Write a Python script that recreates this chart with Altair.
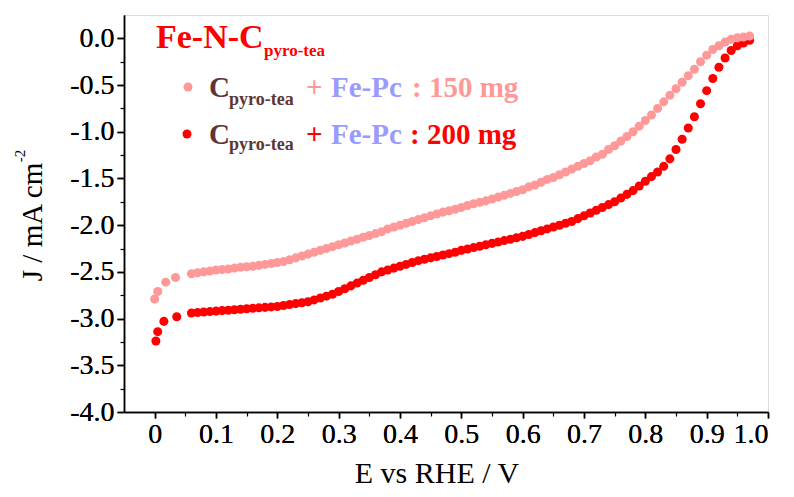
import altair as alt
import pandas as pd

# ---- data ----
E_150 = [0.000, 0.005, 0.018, 0.034,
         0.06, 0.07, 0.08, 0.09, 0.10, 0.11, 0.12, 0.13, 0.14, 0.15, 0.16, 0.17, 0.18, 0.19,
         0.20, 0.21, 0.22, 0.23, 0.24, 0.25, 0.26, 0.27, 0.28, 0.29, 0.30, 0.31, 0.32, 0.33,
         0.34, 0.35, 0.36, 0.37, 0.38, 0.39, 0.40, 0.41, 0.42, 0.43, 0.44, 0.45, 0.46, 0.47,
         0.48, 0.49, 0.50, 0.51, 0.52, 0.53, 0.54, 0.55, 0.56, 0.57, 0.58, 0.59, 0.60, 0.61,
         0.62, 0.63, 0.64, 0.65, 0.66, 0.67, 0.68, 0.69, 0.70, 0.71, 0.72, 0.73, 0.74, 0.75,
         0.76, 0.77, 0.78, 0.79, 0.80, 0.81, 0.82, 0.83, 0.84, 0.85, 0.86, 0.87, 0.88, 0.89,
         0.90, 0.91, 0.92, 0.93, 0.94, 0.95, 0.96, 0.97]
J_150 = [-2.79, -2.71, -2.61, -2.56,
         -2.52, -2.51, -2.50, -2.49, -2.48, -2.475, -2.47, -2.46, -2.45, -2.445, -2.44, -2.43, -2.42, -2.41,
         -2.40, -2.39, -2.37, -2.35, -2.33, -2.31, -2.29, -2.27, -2.25, -2.23, -2.21, -2.19, -2.17, -2.15,
         -2.13, -2.11, -2.09, -2.07, -2.04, -2.02, -2.00, -1.98, -1.96, -1.94, -1.92, -1.90, -1.88, -1.86,
         -1.845, -1.83, -1.81, -1.79, -1.77, -1.755, -1.74, -1.72, -1.70, -1.68, -1.66, -1.64, -1.62, -1.59,
         -1.57, -1.54, -1.51, -1.49, -1.46, -1.43, -1.40, -1.37, -1.34, -1.31, -1.27, -1.24, -1.19, -1.15,
         -1.10, -1.05, -1.00, -0.94, -0.88, -0.82, -0.75, -0.68, -0.61, -0.54, -0.47, -0.40, -0.33, -0.25,
         -0.18, -0.12, -0.08, -0.04, -0.01, 0.005, 0.015, 0.025]

E_200 = [0.002, 0.005, 0.015, 0.036,
         0.06, 0.07, 0.08, 0.09, 0.10, 0.11, 0.12, 0.13, 0.14, 0.15, 0.16, 0.17, 0.18, 0.19,
         0.20, 0.21, 0.22, 0.23, 0.24, 0.25, 0.26, 0.27, 0.28, 0.29, 0.30, 0.31, 0.32, 0.33,
         0.34, 0.35, 0.36, 0.37, 0.38, 0.39, 0.40, 0.41, 0.42, 0.43, 0.44, 0.45, 0.46, 0.47,
         0.48, 0.49, 0.50, 0.51, 0.52, 0.53, 0.54, 0.55, 0.56, 0.57, 0.58, 0.59, 0.60, 0.61,
         0.62, 0.63, 0.64, 0.65, 0.66, 0.67, 0.68, 0.69, 0.70, 0.71, 0.72, 0.73, 0.74, 0.75,
         0.76, 0.77, 0.78, 0.79, 0.80, 0.81, 0.82, 0.83, 0.84, 0.85, 0.86, 0.87, 0.88, 0.89,
         0.90, 0.91, 0.92, 0.93, 0.94, 0.95, 0.96, 0.97]
J_200 = [-3.24, -3.14, -3.03, -2.98,
         -2.94, -2.935, -2.93, -2.925, -2.92, -2.915, -2.91, -2.905, -2.90, -2.895, -2.89, -2.885, -2.88, -2.875,
         -2.87, -2.86, -2.85, -2.84, -2.83, -2.82, -2.80, -2.78, -2.76, -2.74, -2.71, -2.68, -2.65, -2.62,
         -2.59, -2.56, -2.53, -2.50, -2.48, -2.46, -2.44, -2.42, -2.40, -2.38, -2.365, -2.35, -2.335, -2.32,
         -2.305, -2.29, -2.27, -2.255, -2.24, -2.225, -2.21, -2.195, -2.18, -2.165, -2.15, -2.135, -2.12, -2.10,
         -2.08, -2.06, -2.04, -2.02, -2.00, -1.98, -1.96, -1.93, -1.90, -1.87, -1.84, -1.81, -1.78, -1.75,
         -1.71, -1.67, -1.63, -1.58, -1.53, -1.48, -1.43, -1.37, -1.29, -1.19, -1.08, -0.96, -0.84, -0.70,
         -0.56, -0.43, -0.31, -0.21, -0.13, -0.08, -0.05, -0.02]

SERIES = ["150 mg", "200 mg"]
COLORS = ["#ff9999", "#ff0000"]

X_TICKS = [0.0, 0.1, 0.2, 0.3, 0.4, 0.5, 0.6, 0.7, 0.8, 0.9, 1.0]
X_MINOR = [0.05, 0.15, 0.25, 0.35, 0.45, 0.55, 0.65, 0.75, 0.85, 0.95]
Y_TICKS = [0.0, -0.5, -1.0, -1.5, -2.0, -2.5, -3.0, -3.5, -4.0]
Y_MINOR = [-0.25, -0.75, -1.25, -1.75, -2.25, -2.75, -3.25, -3.75]

# ---- layout ----
W, H = 644, 397
PAD_L, PAD_T = 116, 7
OX, OY = 8 + PAD_L, 8 + PAD_T  # page position of the plot origin
FONT = "Liberation Serif"
DOT = 82

df150 = pd.DataFrame({"E": E_150, "J": J_150, "series": SERIES[0]})
df200 = pd.DataFrame({"E": E_200, "J": J_200, "series": SERIES[1]})

xs = alt.Scale(domain=[-0.05, 1.0], nice=False, zero=False)
ys = alt.Scale(domain=[-4.0, 0.25], nice=False, zero=False)
cs = alt.Scale(domain=SERIES, range=COLORS)

x_major = alt.Axis(values=X_TICKS, title=None, grid=False, orient="bottom",
                   labelExpr="datum.value == 0 ? '0' : format(datum.value, '.1f')",
                   labelFont=FONT, labelFontSize=28, labelColor="black",
                   labelPadding=2, tickSize=6, tickColor="black", tickWidth=1.5,
                   domainColor="black", domainWidth=1.5)
y_major = alt.Axis(values=Y_TICKS, title=None, grid=False, orient="left",
                   labelExpr="datum.value == 0 ? '0.0' : '-' + format(abs(datum.value), '.1f')",
                   labelFont=FONT, labelFontSize=28, labelColor="black",
                   labelPadding=3, tickSize=7, tickColor="black", tickWidth=1.5,
                   domainColor="black", domainWidth=1.5)
x_minor = alt.Axis(values=X_MINOR, title=None, grid=False, orient="bottom", labels=False,
                   domain=False, tickSize=4, tickColor="black", tickWidth=1.2)
y_minor = alt.Axis(values=Y_MINOR, title=None, grid=False, orient="left", labels=False,
                   domain=False, tickSize=4, tickColor="black", tickWidth=1.2)


def pts(df, xa, ya, opacity=1.0):
    return alt.Chart(df).mark_circle(size=DOT, opacity=opacity).encode(
        x=alt.X("E:Q", scale=xs, axis=xa),
        y=alt.Y("J:Q", scale=ys, axis=ya),
        color=alt.Color("series:N", scale=cs, legend=None),
    )


red = pts(df200, x_major, y_major)
pink = pts(df150, x_major, y_major)
minor = pts(df200, x_minor, y_minor, opacity=0.0)

one = pd.DataFrame({"k": [0]})


def txt(s, px, py, size, color, bold=True, angle=0, align="left", baseline="alphabetic"):
    kw = dict(text=s, font=FONT, fontSize=size, color=color, align=align,
              baseline=baseline, fontWeight="bold" if bold else "normal")
    if angle:
        kw["angle"] = angle
    return alt.Chart(one).mark_text(**kw).encode(x=alt.value(px - OX), y=alt.value(py - OY))


def dot(px, py, color):
    return alt.Chart(one).mark_circle(size=DOT, opacity=1, color=color).encode(
        x=alt.value(px - OX), y=alt.value(py - OY))


BROWN = "#5e3535"
BLUE = "#9a9aff"
notes = [
    txt("Fe-N-C", 156, 48, 34, "#ff0000"),
    txt("pyro-tea", 264, 56, 17, "#ff0000"),
    dot(188, 87, COLORS[0]),
    txt("C", 209, 97, 29, BROWN),
    txt("pyro-tea", 229, 105, 18, BROWN),
    txt("+", 306, 97, 29, COLORS[0]),
    txt("Fe-Pc", 331, 97, 29, BLUE),
    txt(": 150 mg", 412, 97, 29, COLORS[0]),
    dot(187, 134, COLORS[1]),
    txt("C", 209, 144, 29, BROWN),
    txt("pyro-tea", 229, 150, 18, BROWN),
    txt("+", 306, 144, 29, COLORS[1]),
    txt("Fe-Pc", 331, 144, 29, BLUE),
    txt(": 200 mg", 410, 144, 29, COLORS[1]),
    txt("J / mA cm", 33, 222, 29, "black", bold=False, angle=270, align="center", baseline="middle"),
    txt("-2", 20, 156, 15, "black", bold=False, angle=270, align="center", baseline="middle"),
    txt("E vs RHE / V", 437, 483, 30, "black", bold=False, align="center"),
]

chart = alt.layer(minor, red, pink, *notes).resolve_axis(
    x="independent", y="independent"
).properties(
    width=W, height=H,
    autosize=alt.AutoSizeParams(type="none"),
    padding={"left": PAD_L, "top": PAD_T, "right": 18, "bottom": 77},
).configure_view(stroke=None).configure(background="white")

chart.save("out.html", embed_options={"renderer": "svg", "actions": False})
